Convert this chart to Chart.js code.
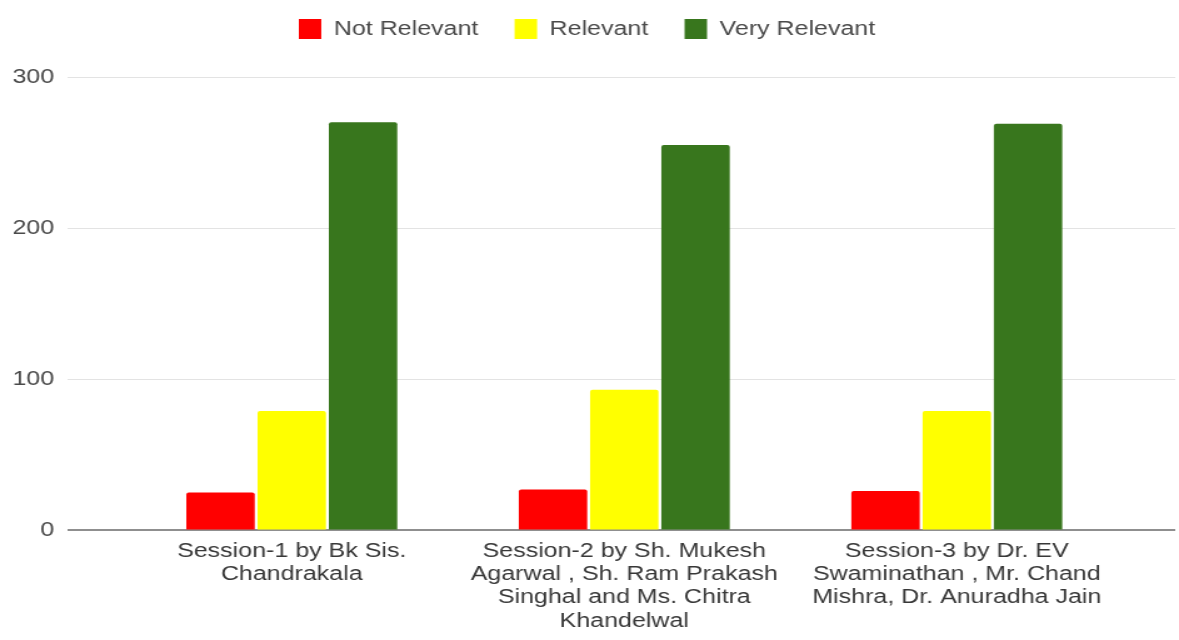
<!DOCTYPE html>
<html>
<head>
<meta charset="utf-8">
<script src="https://cdn.jsdelivr.net/npm/chart.js@4.4.1/dist/chart.umd.min.js"></script>
<style>
  html, body { margin: 0; padding: 0; background: #fff; }
</style>
</head>
<body>
<!-- the source image is stretched sideways, so the canvas is drawn narrow and widened by css -->
<canvas id="myChart" width="943" height="640" style="width:1179px;height:640px;display:block"></canvas>
<script>
const categories = [
  ['Session-1 by Bk Sis.', 'Chandrakala'],
  ['Session-2 by Sh. Mukesh', 'Agarwal , Sh. Ram Prakash', 'Singhal and Ms. Chitra', 'Khandelwal'],
  ['Session-3 by Dr. EV', 'Swaminathan , Mr. Chand', 'Mishra, Dr. Anuradha Jain']
];
const seriesNames = ['Not Relevant', 'Relevant', 'Very Relevant'];
const notRelevant = [25, 27, 26];
const relevant = [79, 93, 79];
const veryRelevant = [270, 255, 269];
const yTicks = [0, 100, 200, 300];

const colors = ['#ff0000', '#ffff00', '#38761d'];
const font = 'Liberation Sans, Arial, sans-serif';

function points(values) {
  return values.map((v, i) => ({ x: i, y: v }));
}

// extra room under the legend
const legendGap = {
  id: 'legendGap',
  beforeInit(chart) {
    const fit = chart.legend.fit;
    chart.legend.fit = function () {
      fit.call(this);
      this.height += 28;
    };
  }
};

var ctx = document.getElementById('myChart');
var myChart = new Chart(ctx, {
  type: 'bar',
  data: {
    datasets: [notRelevant, relevant, veryRelevant].map((vals, i) => ({
      label: seriesNames[i],
      data: points(vals),
      backgroundColor: colors[i],
      borderWidth: 0,
      borderRadius: 2,
      categoryPercentage: 0.643,
      barPercentage: 0.96
    }))
  },
  options: {
    responsive: false,
    animation: false,
    layout: { padding: { left: -1, right: 3, top: -10, bottom: 6 } },
    plugins: {
      tooltip: { enabled: false },
      legend: {
        position: 'top',
        labels: {
          boxWidth: 18,
          boxHeight: 20,
          padding: 29,
          color: '#4a4a4a',
          font: { family: font, size: 20 }
        }
      }
    },
    scales: {
      x: {
        type: 'linear',
        offset: false,
        bounds: 'data',
        min: -0.673,
        max: 2.657,
        grid: { display: false, offset: false },
        border: { display: false },
        afterBuildTicks(axis) {
          axis.ticks = categories.map((c, i) => ({ value: i }));
        },
        ticks: {
          autoSkip: false,
          maxRotation: 0,
          padding: 1,
          color: '#383838',
          font: { family: font, size: 20, lineHeight: 1.17 },
          callback: (value) => categories[value]
        }
      },
      y: {
        min: 0,
        max: 300,
        border: { display: false },
        afterBuildTicks(axis) {
          axis.ticks = yTicks.map(v => ({ value: v }));
        },
        grid: {
          drawTicks: false,
          color: (c) => (c.tick && c.tick.value === 0) ? '#8f8f8f' : '#e3e3e3',
          lineWidth: (c) => (c.tick && c.tick.value === 0) ? 2 : 1
        },
        ticks: {
          padding: 11,
          color: '#4a4a4a',
          font: { family: font, size: 20 }
        }
      }
    }
  },
  plugins: [legendGap]
});
</script>
</body>
</html>
